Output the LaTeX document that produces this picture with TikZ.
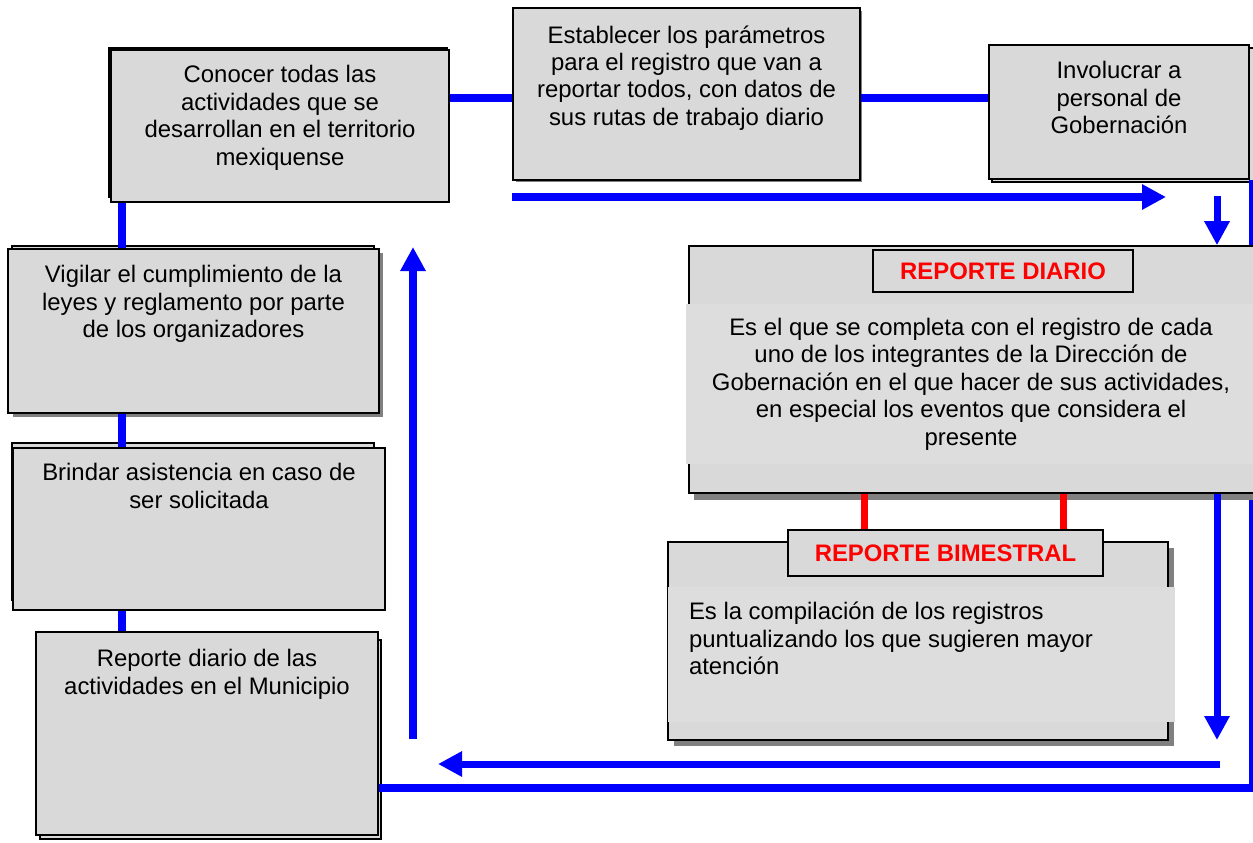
\documentclass[tikz,border=0pt]{standalone}
\usepackage{fontspec}
\setmainfont{Liberation Sans}
\usetikzlibrary{arrows.meta,fit}
\definecolor{cajagris}{RGB}{217,217,217}
\definecolor{zonagris}{RGB}{221,221,221}
\definecolor{sombra}{RGB}{128,128,128}
\definecolor{azul}{RGB}{0,0,255}
\definecolor{rojo}{RGB}{255,0,0}

\begin{document}
\begin{tikzpicture}[x=0.02cm, y=-0.02cm,
    caja/.style={draw=black, fill=cajagris, line width=0.9pt, inner sep=0pt},
    hoja/.style={draw=black, fill=cajagris, line width=0.9pt},
    zona/.style={fill=zonagris, inner sep=0pt},
    texto/.style={anchor=north, align=center, inner sep=0pt, font=\fontsize{13.6}{15.6}\selectfont},
    etiqueta/.style={caja, text=rojo, font=\fontsize{13.6}{15.6}\selectfont\bfseries},
    linea/.style={azul, line width=4pt},
    flecha/.style={linea, -{Triangle[length=0.48cm, width=0.48cm]}},
    enlace/.style={rojo, line width=4pt}]

    \useasboundingbox (0,0) rectangle (1253,842);

    % Back sheets and shadows
    \draw[hoja] (109,48) rectangle (447,197);
    \fill[sombra] (516,11) rectangle (862,182);
    \draw[hoja] (992,48) rectangle (1254,182);
    \fill[sombra] (13,253) rectangle (383,417);
    \draw[hoja] (12,246) rectangle (374,400);
    \draw[hoja] (12,443) rectangle (374,600);
    \draw[hoja] (40,640) rectangle (381,839);

    % Left column of tasks
    \node[caja, fit={(111,50) (449,202)}] (conocer) {};
    \node[texto] at ([shift={(0,16)}]conocer.north) {Conocer todas las\\ actividades que se\\ desarrollan en el territorio\\ mexiquense};

    \node[caja, fit={(8,249) (379,413)}] (vigilar) {};
    \node[texto] at ([shift={(0,17)}]vigilar.north) {Vigilar el cumplimiento de la\\ leyes y reglamento por parte\\ de los organizadores};

    \node[caja, fit={(13,448) (385,610)}] (brindar) {};
    \node[texto] at ([shift={(0,16)}]brindar.north) {Brindar asistencia en caso de\\ ser solicitada};

    \node[caja, fit={(36,632) (378,835)}] (reporte) {};
    \node[texto] at ([shift={(0,18)}]reporte.north) {Reporte diario de las\\ actividades en el Municipio};

    % Top row
    \node[caja, fit={(513,8) (860,180)}] (establecer) {};
    \node[texto] at ([shift={(0,18)}]establecer.north) {Establecer los par\'ametros\\ para el registro que van a\\ reportar todos, con datos de\\ sus rutas de trabajo diario};

    \node[caja, fit={(989,45) (1249,179)}] (involucrar) {};
    \node[texto] at ([shift={(0,17)}]involucrar.north) {Involucrar a\\ personal de\\ Gobernaci\'on};

    % Return line (runs behind the daily report)
    \draw[linea] ([xshift=0.06cm]involucrar.south east) |- ([yshift=-1.09cm]reporte.east);

    % Daily report
    \fill[sombra] (694,251) rectangle (1260,500);
    \node[caja, fit={(689,246) (1258,493)}] (diario) {};
    \node[etiqueta, minimum width=5.2cm, minimum height=0.84cm] (diarioL) at (1003,271) {REPORTE DIARIO};
    \node[zona, align=center, minimum width=11.4cm, minimum height=3.2cm, font=\fontsize{13.6}{15.6}\selectfont] (diarioT) at (971,384) {Es el que se completa con el registro de cada\\ uno de los integrantes de la Direcci\'on de\\ Gobernaci\'on en el que hacer de sus actividades,\\ en especial los eventos que considera el\\ presente};

    % Bimonthly report
    \fill[sombra] (674,548) rectangle (1174,746);
    \node[caja, fit={(668,542) (1168,740)}] (bimestral) {};
    \node[etiqueta, minimum width=6.3cm, minimum height=0.92cm] (bimestralL) at (945.5,553) {REPORTE BIMESTRAL};
    \node[zona, fit={(668,587) (1175,722)}] (bimestralZ) {};
    \node[texto, anchor=north west, align=left] at ([shift={(21,15)}]bimestralZ.north west) {Es la compilaci\'on de los registros\\ puntualizando los que sugieren mayor\\ atenci\'on};

    % Free ends of the arrows
    \coordinate (eje) at (122,0);
    \coordinate (finA) at (1166,197);
    \coordinate (bajaA) at (1217,196);
    \coordinate (finB) at (1217,740);
    \coordinate (inicioC) at (1220,764);
    \coordinate (finC) at (438,764);
    \coordinate (inicioD) at (413,739);
    \coordinate (finD) at (413,247);

    % Blue connectors
    \draw[linea] ([yshift=-0.08cm]establecer.west -| conocer.east) -- ([yshift=-0.08cm]establecer.west);
    \draw[linea] ([yshift=-0.08cm]establecer.east) -- ([yshift=-0.08cm]establecer.east -| involucrar.west);
    \foreach \a/\b in {conocer/vigilar, vigilar/brindar, brindar/reporte} {
        \draw[linea] (\a.south -| eje) -- (\b.north -| eje);
    }
    \draw[flecha] (establecer.south west |- finA) -- (finA);
    \draw[flecha] (bajaA) -- (bajaA |- diario.north);
    \draw[flecha] (bajaA |- diario.south) -- (finB);
    \draw[flecha] (inicioC) -- (finC);
    \draw[flecha] (inicioD) -- (finD);

    % Red links between the reports
    \draw[enlace] (864,0 |- diario.south) -- (864,0 |- bimestralL.north);
    \draw[enlace] (1063,0 |- diario.south) -- (1063,0 |- bimestralL.north);

\end{tikzpicture}
\end{document}
